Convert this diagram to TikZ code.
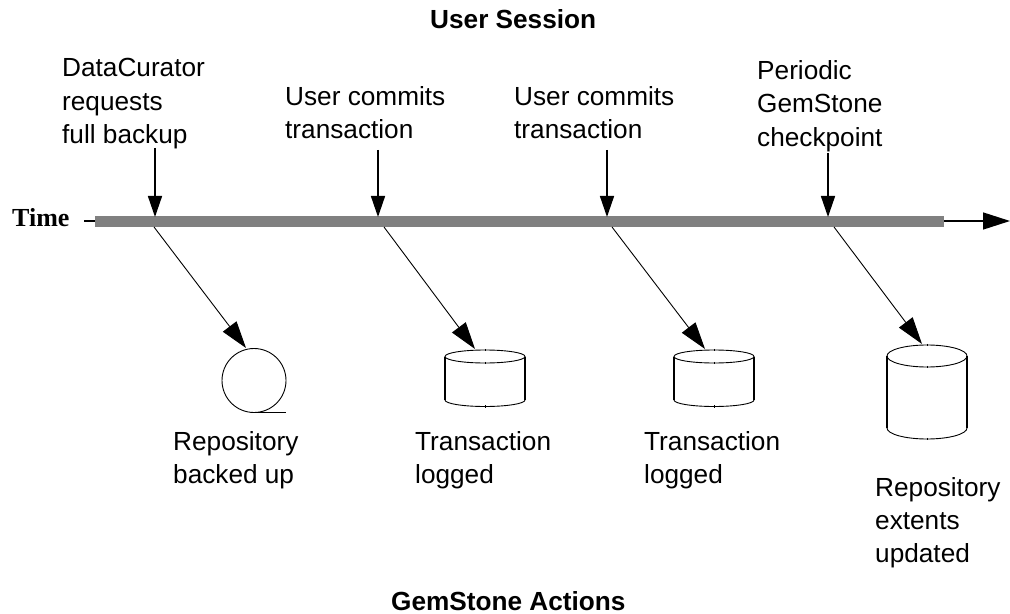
\documentclass[tikz,border=0pt]{standalone}
\usepackage{fontspec}
\setmainfont{Liberation Sans}
\newfontfamily\timesfont{Liberation Serif}
\usetikzlibrary{arrows.meta}
\definecolor{barc}{HTML}{808080}
\tikzset{
 x=1bp,y=-1bp,
 lbl/.style={anchor=base west,inner sep=0pt,font=\fontsize{26.2bp}{30bp}\selectfont},
 ttl/.style={anchor=base west,inner sep=0pt,font=\fontsize{26.2bp}{30bp}\selectfont\bfseries},
 heavy/.style={line width=1.5bp,-{Triangle[length=21bp,width=14bp]}},
 thin2/.style={line width=0.9bp,-{Triangle[length=27bp,width=17bp]}},
 cyl/.style={line width=0.9bp,draw=black},
 cyls/.style={line width=1.3bp,draw=black},
}
\newcommand{\drumshape}[5]{% cx, top y centre, rx, ry, side bottom y
 \draw[cyl] (#1,#2) ellipse [x radius=#3,y radius=#4];
 \draw[cyl] (#1-#3,#5) arc[start angle=180,end angle=0,x radius=#3,y radius=#4];
 \draw[cyls] (#1-#3,#2) -- (#1-#3,#5);
 \draw[cyls] (#1+#3,#2) -- (#1+#3,#5);
 \draw[line width=0.6bp] (#1,#2+#4-1.2) -- (#1,#2+#4+1.2);
 \draw[line width=0.6bp] (#1,#5+#4-1.2) -- (#1,#5+#4+1.2);
 \draw[line width=0.6bp] (#1,#2-#4-1.2) -- (#1,#2-#4+1.2);
}
\begin{document}
\begin{tikzpicture}
\useasboundingbox (0,0) rectangle (1010,614);
\node[ttl] (us) at (430,29) {User Session};
\node[ttl] (ga) at (391,610) {GemStone Actions};
\node[inner sep=0pt,anchor=base west,font=\fontsize{26bp}{30bp}\selectfont\timesfont\bfseries] (time) at (12,227) {Time};
\node[lbl] (l1) at (62,77) {DataCurator};
\node[lbl] (l1b) at (62,111) {requests};
\node[lbl] (l1c) at (62,144) {full backup};
\node[lbl] (l2) at (285,106) {User commits};
\node[lbl] (l2b) at (285,139) {transaction};
\node[lbl] (l3) at (514,106) {User commits};
\node[lbl] (l3b) at (514,139) {transaction};
\node[lbl] (l4) at (757,80) {Periodic};
\node[lbl] (l4b) at (757,113) {GemStone};
\node[lbl] (l4c) at (757,147) {checkpoint};
\node[lbl] (r1) at (173,450) {Repository};
\node[lbl] (r1b) at (173,483) {backed up};
\node[lbl] (r2) at (415,450) {Transaction};
\node[lbl] (r2b) at (415,483) {logged};
\node[lbl] (r3) at (644,450) {Transaction};
\node[lbl] (r3b) at (644,483) {logged};
\node[lbl] (r4) at (875,496) {Repository};
\node[lbl] (r4b) at (875,529) {extents};
\node[lbl] (r4c) at (875,562) {updated};
% time line
\coordinate (ts) at (84,221);
\coordinate (te) at (1010,221);
\draw[line width=1.5bp,-{Triangle[length=27bp,width=17bp]}] (ts) -- (te);
\fill[barc] (95,216) rectangle (944,227);
% vertical arrows
\foreach \n/\x/\a in {1/155/148,2/378/150,3/607/150,4/828/153}{
 \coordinate (va\n) at (\x,\a);
 \coordinate (vb\n) at (\x,217);
 \draw[heavy] (va\n) -- (vb\n);
}
% diagonals
\coordinate (d1s) at (154,227); \coordinate (d1e) at (246,348);
\coordinate (d2s) at (384,227); \coordinate (d2e) at (475,349);
\coordinate (d3s) at (612,227); \coordinate (d3e) at (705,349);
\coordinate (d4s) at (834,227); \coordinate (d4e) at (922,344);
\foreach \n in {1,2,3,4}{\draw[thin2] (d\n s) -- (d\n e);}
% tape
\draw[line width=0.9bp] (254,380.5) circle [radius=32];
\draw[line width=1.3bp] (254,412.5) -- (286,412.5);
% cylinders
\drumshape{485}{356.5}{40}{6.5}{400}
\drumshape{714}{356.5}{40}{6.5}{400}
\drumshape{927}{356}{40}{11}{428}
\end{tikzpicture}
\end{document}
